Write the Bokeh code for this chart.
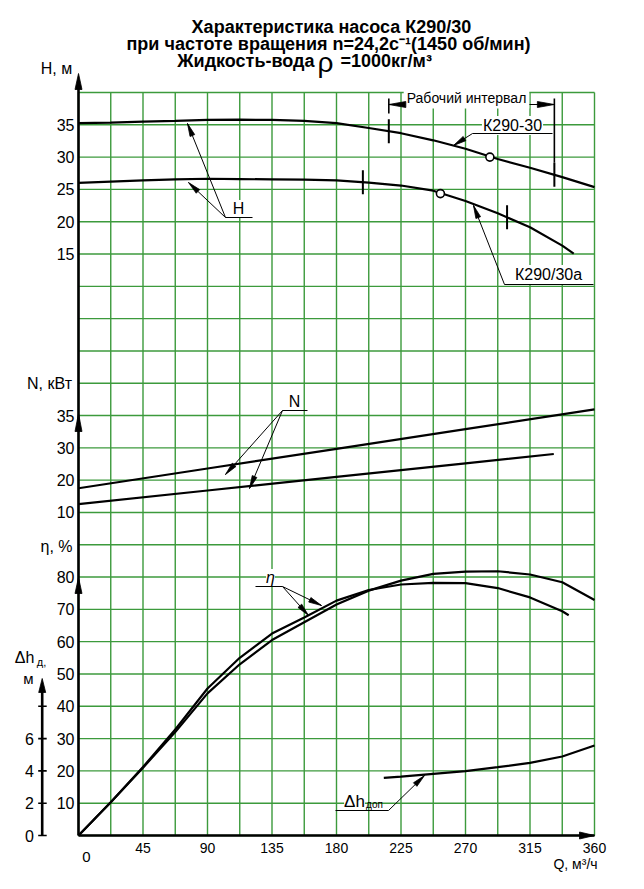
import math
import numpy as np
from bokeh.plotting import figure
from bokeh.models import Range1d, Label, Arrow, PolyAnnotation
from bokeh.core.properties import value
from bokeh.embed import file_html
from bokeh.resources import INLINE

# ---------------- data ----------------
Q_H_30 = [0, 22.5, 45, 67.5, 90, 112.5, 135, 157.5, 180, 202.5, 225, 247.5, 270, 292.5, 315, 337.5, 360]
H_30 = [35.25, 35.35, 35.5, 35.6, 35.75, 35.8, 35.75, 35.6, 35.25, 34.5, 33.7, 32.6, 31.3, 29.7, 28.35, 26.9, 25.35]
Q_H_30A = [0, 22.5, 45, 67.5, 90, 112.5, 135, 157.5, 180, 202.5, 225, 247.5, 270, 292.5, 315, 337.5, 345.5]
H_30A = [26.0, 26.2, 26.4, 26.55, 26.65, 26.6, 26.55, 26.5, 26.4, 26.05, 25.6, 24.8, 23.2, 21.3, 19.15, 16.3, 15.05]
NOM_Q = [287, 252.5]
NOM_H = [30.0, 24.35]
WORK_30 = [216.5, 332]
WORK_30A = [198.4, 299]

Q_N_30 = [0, 90, 180, 270, 360]
N_30 = [17.5, 23.6, 29.7, 32.9, 35.95]
Q_N_30A = [0, 90, 180, 270, 331.6]
N_30A = [12.6, 16.8, 21.0, 25.2, 28.1]

Q_ETA_30 = [0, 22.5, 45, 67.5, 90, 112.5, 135, 157.5, 180, 202.5, 225, 247.5, 270, 292.5, 315, 337.5, 360]
ETA_30 = [0, 10.3, 21.0, 32.0, 44.0, 53.0, 60.5, 66.0, 71.5, 75.8, 78.9, 81.0, 81.7, 81.8, 80.8, 78.4, 72.9]
Q_ETA_30A = [0, 22.5, 45, 67.5, 90, 112.5, 135, 157.5, 180, 202.5, 225, 247.5, 270, 292.5, 315, 337.5, 342]
ETA_30A = [0, 10.3, 21.2, 32.8, 45.5, 55.0, 62.5, 67.5, 72.7, 76.0, 77.7, 78.2, 78.1, 76.6, 73.7, 69.4, 68.2]

Q_DH = [213, 225, 247.5, 270, 292.5, 315, 337.5, 360]
DH = [3.57, 3.65, 3.82, 3.98, 4.23, 4.5, 4.89, 5.57]

Q_TICKS = [45, 90, 135, 180, 225, 270, 315, 360]
H_TICKS = [15, 20, 25, 30, 35]
N_TICKS = [10, 20, 30, 35]
ETA_TICKS = [10, 20, 30, 40, 50, 60, 70, 80]
DH_TICKS = [0, 2, 4, 6, 8]
DH_LABELS = ["0", "2", "4", "6", ""]

GRID_Q = [22.5 * i for i in range(17)]
GRID_U = [10 * i for i in range(24)]

# ---------------- stacked scale: H, N, eta share one grid ----------------
def u_H(vals):
    return [150 + 2 * v for v in vals]

N_U = [100, 110, 120, 130]          # grid rows carrying the N labels

def u_N(vals):
    out = []
    for n in vals:
        i = 0
        for k in range(len(N_TICKS) - 1):
            if n >= N_TICKS[k]:
                i = k
        n0, n1, a, b = N_TICKS[i], N_TICKS[i + 1], N_U[i], N_U[i + 1]
        out.append(a + (n - n0) * (b - a) / (n1 - n0))
    return out

FONT = "Liberation Sans"
GREEN = "#3c9a3c"

# page geometry of the grid
W, HH = 640, 884
FL, FR, FT, FB = 78, 594, 92, 835
SX = (FR - FL) / 360.0
SY = (FB - FT) / 230.0

def qx(px):
    return (px - FL) / SX

def uy(py):
    return (FB - py) / SY

p = figure(width=W, height=HH, x_range=Range1d(qx(0), qx(W)), y_range=Range1d(uy(HH), uy(0)),
           output_backend="svg", toolbar_location=None,
           x_axis_location=None, y_axis_location=None, min_border=0)
p.outline_line_color = None
p.background_fill_color = "white"
p.border_fill_color = "white"
p.grid.visible = False
p.extra_y_ranges = {"dh": Range1d(uy(HH) / 5.0, uy(0) / 5.0)}

# grid
p.segment(x0=GRID_Q, y0=0, x1=GRID_Q, y1=GRID_U[-1], line_color=GREEN, line_width=1.4)
p.segment(x0=0, y0=GRID_U, x1=GRID_Q[-1], y1=GRID_U, line_color=GREEN, line_width=1.4)

# main vertical axis (H / N / eta)
AXW = 2.6
p.segment(x0=[0], y0=[0], x1=[0], y1=[uy(86)], line_color="black", line_width=AXW)
main_pos = u_H(H_TICKS) + u_N(N_TICKS) + ETA_TICKS
main_lab = [str(v) for v in H_TICKS] + [str(v) for v in N_TICKS] + [str(v) for v in ETA_TICKS]
p.text(x=qx(74), y=main_pos, text=main_lab, text_align="right", text_baseline="middle",
       text_font=value(FONT), text_font_size="16px", text_color="black")

# Δh axis
DHX = 41.7
p.segment(x0=[qx(DHX)], y0=[0], x1=[qx(DHX)], y1=[9.2], y_range_name="dh", line_color="black", line_width=AXW)
p.segment(x0=qx(DHX - 4), y0=DH_TICKS, x1=qx(DHX + 4.5), y1=DH_TICKS, y_range_name="dh",
          line_color="black", line_width=1.6)
p.text(x=qx(33.5), y=DH_TICKS, text=DH_LABELS, y_range_name="dh", text_align="right",
       text_baseline="middle", text_font=value(FONT), text_font_size="16px", text_color="black")

# Q axis
p.segment(x0=[0], y0=[0], x1=[GRID_Q[-1]], y1=[0], line_color="black", line_width=AXW)
p.text(x=Q_TICKS, y=uy(847), text=[str(v) for v in Q_TICKS], text_align="center",
       text_baseline="middle", text_font=value(FONT), text_font_size="14px", text_color="black")

# ---------------- curves ----------------
LW = 2.2
p.line(Q_H_30, u_H(H_30), line_width=LW, color="black")
p.line(Q_H_30A, u_H(H_30A), line_width=LW, color="black")
p.line(Q_N_30, u_N(N_30), line_width=LW, color="black")
p.line(Q_N_30A, u_N(N_30A), line_width=LW, color="black")
p.line(Q_ETA_30, ETA_30, line_width=LW, color="black")
p.line(Q_ETA_30A, ETA_30A, line_width=LW, color="black")
p.line(Q_DH, DH, y_range_name="dh", line_width=LW, color="black")

# working-range marks on the H curves
d = 12 / SY
w30 = u_H(np.interp(WORK_30, Q_H_30, H_30))
w30a = u_H(np.interp(WORK_30A, Q_H_30A, H_30A))
p.segment(x0=WORK_30, y0=[v - d for v in w30], x1=WORK_30, y1=[v + d for v in w30], line_width=2.0, color="black")
p.segment(x0=WORK_30A, y0=[v - d for v in w30a], x1=WORK_30A, y1=[v + d for v in w30a], line_width=2.0, color="black")
yb_top, yb_line = uy(98), uy(104)
p.segment(x0=WORK_30, y0=[yb_top, yb_top], x1=WORK_30, y1=[uy(113), w30[1] + d], line_width=1.6, color="black")
p.segment(x0=[WORK_30[0]], y0=[yb_line], x1=[WORK_30[1]], y1=[yb_line], line_width=1.2, color="black")

p.scatter(NOM_Q, u_H(NOM_H), marker="circle", size=8, fill_color="white", line_color="black", line_width=1.6)

# ---------------- annotations ----------------
def lab(text, px, py, size, align="center", baseline="middle", style="normal", bg=None, pad=0):
    kw = dict(x=qx(px), y=uy(py), text=text, text_font=FONT, text_font_size=f"{size}px",
              text_align=align, text_baseline=baseline, text_font_style=style, text_color="black")
    if bg:
        kw.update(background_fill_color=bg, padding=pad)
    p.add_layout(Label(**kw))

def seg(a, b, width=1.0):
    p.add_layout(Arrow(start=None, end=None, x_start=qx(a[0]), y_start=uy(a[1]),
                       x_end=qx(b[0]), y_end=uy(b[1]), line_width=width, line_color="black"))

def head(tip, frm, length=13, width=5):
    dx, dy = frm[0] - tip[0], frm[1] - tip[1]
    L = math.hypot(dx, dy)
    ux, uy_ = dx / L, dy / L
    bx, by = tip[0] + ux * length, tip[1] + uy_ * length
    nx, ny = -uy_ * width / 2, ux * width / 2
    pts = [tip, (bx + nx, by + ny), (bx - nx, by - ny)]
    p.add_layout(PolyAnnotation(xs=[qx(x) for x, _ in pts], ys=[uy(y) for _, y in pts],
                                fill_color="black", fill_alpha=1.0, line_color="black",
                                line_width=0.8, line_alpha=1.0))

def leader(origin, tip, length=13, width=5):
    seg(origin, tip, 1.0)
    head(tip, origin, length, width)

# title
lab("Характеристика насоса К290/30", 331, 26.5, 18, style="bold")
lab("при частоте вращения n=24,2с⁻¹(1450 об/мин)", 328, 43.5, 18, style="bold")
lab("Жидкость-вода", 314, 60, 18, align="right", style="bold")
lab("ρ", 325, 62, 28)
lab("=1000кг/м³", 340, 60, 18, align="left", style="bold")

# axis titles
lab("H, м", 56, 68, 16)
lab("N, кВт", 49, 383, 16)
lab("η, %", 56, 546, 16)
lab("Δh", 24, 657, 16)
lab("д,", 41, 661, 11)
lab("м", 28, 678, 15)
lab("0", 86, 856, 15)
lab("Q, м³/ч", 575, 863, 14)

# curve captions
lab("Рабочий интервал", 466, 97, 14, bg="white", pad=3)
lab("К290-30", 512, 125, 16, bg="white", pad=1)
lab("К290/30а", 548, 274, 16, bg="white", pad=1)
lab("H", 238, 208, 16, bg="white", pad=0)
lab("N", 294, 401, 16, bg="white", pad=0)
lab("η", 270, 577, 16, style="italic", bg="white", pad=0)
lab("Δh", 354, 801, 17, bg="white", pad=0)
lab("доп", 374, 804, 10)

# underlines and leaders
seg((225, 217), (252, 217))
leader((225, 217), (187, 123))
leader((225, 217), (188, 182))
seg((472, 133), (552, 133))
leader((472, 133), (453, 145))
seg((504, 284), (593, 284))
leader((504, 284), (473, 205))
seg((282, 410), (307, 410))
leader((282, 410), (225, 474))
leader((282, 410), (249, 488))
seg((255, 586), (282, 586))
leader((282, 586), (321, 605))
leader((282, 586), (308, 615))
seg((335, 810), (388, 810))
leader((388, 810), (424, 775))

# bracket arrowheads
xl, xr = FL + WORK_30[0] * SX, FL + WORK_30[1] * SX
head((xl, 104), (xr, 104), 17, 6)
head((xr, 104), (xl, 104), 17, 6)

# axis arrowheads
head((FL, 73), (FL, 100), 16, 7)
head((FL, 413), (FL, 440), 18, 7)
head((FL, 577), (FL, 600), 16, 7)
head((FR, FB), (FR - 30, FB), 15, 7)
head((DHX, 678), (DHX, 700), 14, 7)

open("out.html", "w").write(file_html(p, INLINE))
